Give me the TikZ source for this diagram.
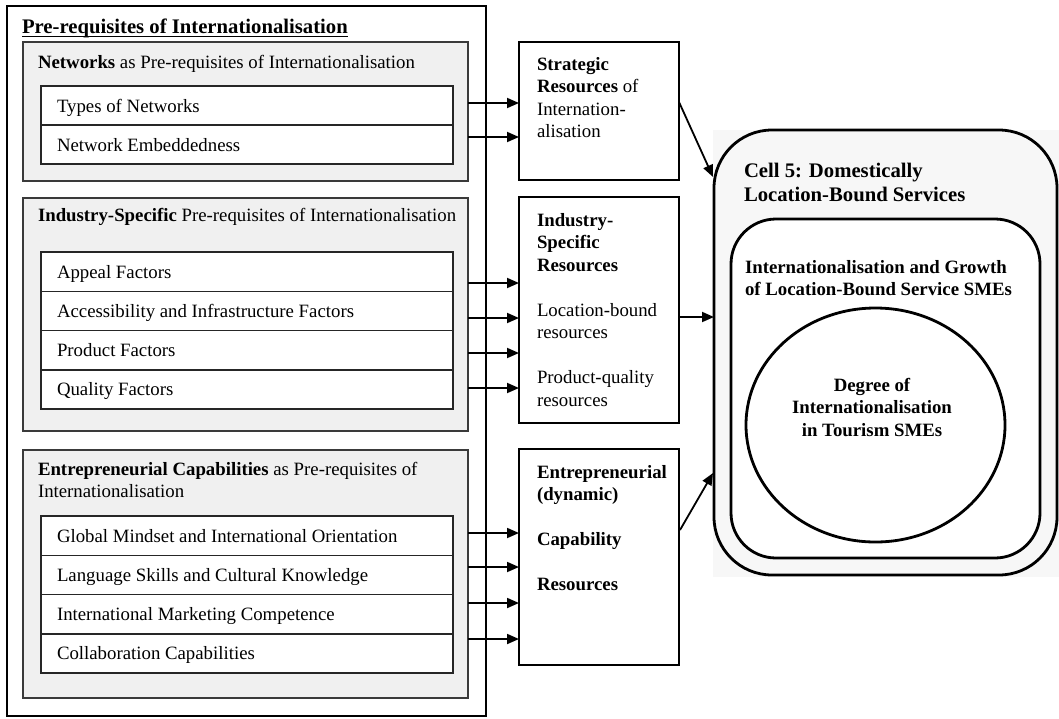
\documentclass[tikz,border=0pt]{standalone}
\usepackage{fontspec}
\setmainfont{Liberation Serif}
\usetikzlibrary{arrows.meta,shapes.geometric}
\newcommand{\fsn}{\fontsize{18.8}{22.5}\selectfont}
\newcommand{\fsl}{\fontsize{20.7}{24}\selectfont}
\definecolor{panelgray}{HTML}{F0F0F0}
\definecolor{cellgray}{HTML}{F7F7F7}
\definecolor{edgegray}{HTML}{3A3A3A}

\begin{document}
\begin{tikzpicture}[x=1pt,y=-1pt,
  every node/.style={inner sep=0pt, outer sep=0pt},
  frame/.style={draw=black, line width=2.3pt, anchor=north west},
  panel/.style={draw=edgegray, fill=panelgray, line width=1.3pt, anchor=north west, minimum width=445},
  listrow/.style={draw=black!85, fill=white, line width=1.5pt, anchor=north west, minimum width=412, minimum height=39.25},
  resbox/.style={draw=black, fill=white, line width=2.9pt, anchor=north west, minimum width=160},
  txt/.style={anchor=base west, font=\fsn},
  flow/.style={line width=1.8pt, -{Triangle[length=12pt,width=10pt]}},
]
\useasboundingbox (0,0) rectangle (1059,718);

% ---------- left column: pre-requisites ----------
\node[frame, minimum width=479, minimum height=710] (outer) at (7,6) {};
\node[anchor=base west, font=\fsl\bfseries] (title) at (22,33) {Pre-requisites of Internationalisation};
\draw[line width=1.5pt] ([yshift=-3.5pt]title.base west) -- ([yshift=-3.5pt]title.base east);

% networks
\node[panel, minimum height=139] (netpanel) at (23,42) {};
\node[txt] (nethead) at (38,68) {\textbf{Networks} as Pre-requisites of Internationalisation};
\node[listrow, minimum height=39] (net1) at (41,86) {};
\node[listrow, minimum height=39] (net2) at (41,125) {};
\node[txt] (net1t) at (57,112) {Types of Networks};
\node[txt] (net2t) at (57,151) {Network Embeddedness};

% industry-specific
\node[panel, minimum height=233] (indpanel) at (23,198) {};
\node[txt] (indhead) at (38,221) {\textbf{Industry-Specific} Pre-requisites of Internationalisation};
\node[listrow] (ind1) at (41,252) {};
\node[listrow] (ind2) at (41,291.25) {};
\node[listrow] (ind3) at (41,330.5) {};
\node[listrow] (ind4) at (41,369.75) {};
\node[txt] (ind1t) at (57,278) {Appeal Factors};
\node[txt] (ind2t) at (57,317.25) {Accessibility and Infrastructure Factors};
\node[txt] (ind3t) at (57,356.5) {Product Factors};
\node[txt] (ind4t) at (57,395.75) {Quality Factors};

% entrepreneurial capabilities
\node[panel, minimum height=248] (entpanel) at (23,450) {};
\node[txt] (enthead) at (38,475) {\parbox[t]{420pt}{\textbf{Entrepreneurial Capabilities} as Pre-requisites of\\Internationalisation}};
\node[listrow] (ent1) at (41,516) {};
\node[listrow] (ent2) at (41,555.25) {};
\node[listrow] (ent3) at (41,594.5) {};
\node[listrow] (ent4) at (41,633.75) {};
\node[txt] (ent1t) at (57,542) {Global Mindset and International Orientation};
\node[txt] (ent2t) at (57,581.25) {Language Skills and Cultural Knowledge};
\node[txt] (ent3t) at (57,620.5) {International Marketing Competence};
\node[txt] (ent4t) at (57,659.75) {Collaboration Capabilities};

% ---------- middle column: resources ----------
\node[resbox, minimum height=138] (strat) at (519,42) {};
\node[txt] (strattxt) at (537,70) {\parbox[t]{140pt}{\textbf{Strategic}\\\textbf{Resources} of\\Internation-\\alisation}};

\node[resbox, minimum height=226] (indres) at (519,197) {};
\node[txt] (indrestxt) at (537,226) {\parbox[t]{140pt}{\textbf{Industry-}\\\textbf{Specific}\\\textbf{Resources}\\[22.5pt]Location-bound\\resources\\[22.5pt]Product-quality\\resources}};

\node[resbox, minimum height=216] (entres) at (519,449) {};
\node[txt] (entrestxt) at (537,478) {\parbox[t]{140pt}{\bfseries Entrepreneurial\\(dynamic)\\[22.5pt]Capability\\[22.5pt]Resources}};

% ---------- right column: cell 5 ----------
\node[fill=cellgray, anchor=north west, minimum width=346, minimum height=447] (cellbg) at (713,130) {};
\node[draw=black, fill=cellgray, line width=2.8pt, rounded corners=58pt, anchor=north west,
      minimum width=343, minimum height=445] (cell5) at (714,130) {};
\node[anchor=base west, font=\fsl\bfseries] (celltxt) at (744,177) {\parbox[t]{300pt}{Cell 5: Domestically\\Location-Bound Services}};
\node[draw=black, fill=white, line width=2.8pt, rounded corners=45pt, anchor=north west,
      minimum width=309, minimum height=339] (growth) at (731,219) {};
\node[anchor=base west, font=\fsn\bfseries] (growtxt) at (745,273) {\parbox[t]{300pt}{Internationalisation and Growth\\of Location-Bound Service SMEs}};
\node[draw=black, fill=white, line width=2.8pt, ellipse, minimum width=259, minimum height=234] (degree) at (875.5,425) {};
\node[font=\fsn\bfseries, align=center] (degtxt) at (872,407) {Degree of\\Internationalisation\\in Tourism SMEs};

% ---------- connectors ----------
\coordinate (na) at (468,103);
\coordinate (nb) at (468,137);
\draw[flow] (na) -- (na -| strat.west);
\draw[flow] (nb) -- (nb -| strat.west);

\coordinate (ia) at (468,283);
\coordinate (ib) at (468,318);
\coordinate (ic) at (468,353);
\coordinate (id) at (468,388);
\foreach \p in {ia,ib,ic,id} \draw[flow] (\p) -- (\p -| indres.west);

\coordinate (ea) at (468,533);
\coordinate (eb) at (468,567);
\coordinate (ec) at (468,603);
\coordinate (ed) at (468,639);
\foreach \p in {ea,eb,ec,ed} \draw[flow] (\p) -- (\p -| entres.west);

\coordinate (sOut) at (679,102);
\coordinate (sIn) at (713,177);
\draw[flow] (sOut) -- (sIn);
\coordinate (iOut) at (679,317);
\draw[flow] (iOut) -- (iOut -| cell5.west);
\coordinate (eOut) at (680,530);
\coordinate (eIn) at (713,473);
\draw[flow] (eOut) -- (eIn);
\end{tikzpicture}
\end{document}
